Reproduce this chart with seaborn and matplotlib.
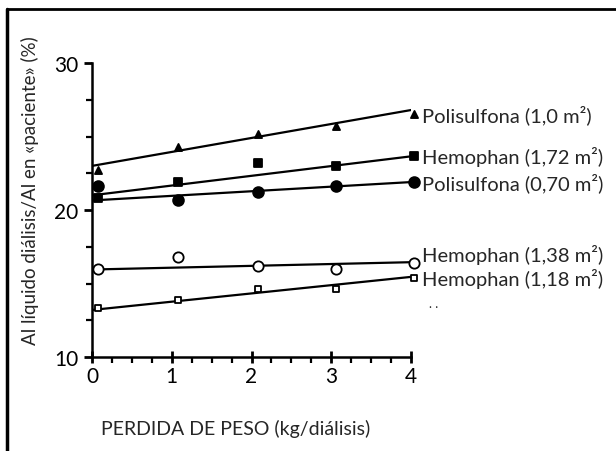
import numpy as np
import pandas as pd
import seaborn as sns
import matplotlib.pyplot as plt
from matplotlib.lines import Line2D
from matplotlib.ticker import MultipleLocator

# peso perdido (kg/dialisis), same x for every membrane
perdida = [0.08, 1.08, 2.08, 3.06, 4.04]

series = ['Polisulfona (1,0 m²)', 'Hemophan (1,72 m²)', 'Polisulfona (0,70 m²)',
          'Hemophan (1,38 m²)', 'Hemophan (1,18 m²)']
pol_10 = [22.7, 24.3, 25.2, 25.7, 26.5]
hem_172 = [20.8, 21.9, 23.2, 23.0, 23.7]
pol_070 = [21.65, 20.7, 21.2, 21.6, 21.9]
hem_138 = [16.0, 16.8, 16.2, 16.0, 16.4]
hem_118 = [13.3, 13.9, 14.6, 14.6, 15.4]

# rectas de regresion tal como salen en la figura (valor en x=0 y en x=4)
recta_x = [0, 4]
recta_ini = [23.0, 21.0, 20.65, 15.95, 13.2]
recta_fin = [26.8, 23.65, 21.9, 16.45, 15.45]

rows = []
for name, vals in zip(series, [pol_10, hem_172, pol_070, hem_138, hem_118]):
    for x, y in zip(perdida, vals):
        rows.append({'perdida': x, 'al': y, 'membrana': name})
df = pd.DataFrame(rows)

lineas = []
for name, y0, y1 in zip(series, recta_ini, recta_fin):
    lineas.append({'perdida': recta_x[0], 'al': y0, 'membrana': name})
    lineas.append({'perdida': recta_x[1], 'al': y1, 'membrana': name})
df_lin = pd.DataFrame(lineas)

sns.set_style('ticks')
plt.rcParams['font.family'] = ['Lato', 'DejaVu Sans']

fig = plt.figure(figsize=(6.16, 4.52), dpi=100)
ax = fig.add_axes([92/616, 1-358/452, 319/616, 294/452])

sns.lineplot(data=df_lin, x='perdida', y='al', units='membrana', estimator=None,
             color='black', lw=1.6, ax=ax)

# marker, size, filled
estilos = {
    series[0]: ('^', 26, True),
    series[1]: ('s', 26, True),
    series[2]: ('o', 60, True),
    series[3]: ('o', 55, False),
    series[4]: ('s', 24, False),
}
dy_label = [0.0, 0.0, 0.0, 0.6, 0.0]

for i, name in enumerate(series):
    sub = df[df['membrana'] == name]
    m, s, filled = estilos[name]
    sns.scatterplot(data=sub, x='perdida', y='al', ax=ax, marker=m, s=s,
                    color='black' if filled else 'white', edgecolor='black',
                    linewidth=1.3, clip_on=False, zorder=4)
    ax.text(4.14, sub['al'].iloc[-1] + dy_label[i], name, fontsize=14.5,
            va='center', ha='left')

ax.text(4.22, 13.7, '. .', fontsize=9, va='center')

ax.set_xlim(0, 4)
ax.set_ylim(10, 30)

sns.despine(ax=ax)
for sp in ['left', 'bottom']:
    ax.spines[sp].set_linewidth(1.8)
    ax.spines[sp].set_color('black')

ax.set_xticks([0, 1, 2, 3, 4])
ax.set_yticks([10, 20, 30])
ax.xaxis.set_minor_locator(MultipleLocator(0.25))
ax.yaxis.set_minor_locator(MultipleLocator(2.5))
ax.tick_params(axis='both', which='both', bottom=True, left=True, colors='black')
ax.tick_params(axis='both', which='major', direction='out', length=6, width=2,
               labelsize=15, pad=4)
ax.tick_params(axis='both', which='minor', direction='out', length=4, width=1.6)
ax.tick_params(axis='x', which='major', direction='inout', length=9, pad=2)

ax.set_xlabel('PERDIDA DE PESO (kg/diálisis)', fontsize=14)
ax.set_ylabel('Al líquido diálisis/Al en «paciente» (%)', fontsize=13.5)
ax.xaxis.set_label_coords(0.45, -0.21)
ax.yaxis.set_label_coords(-0.165, 0.57)

# marco de la figura (solo arriba e izquierda visibles)
fig.add_artist(Line2D([7/616, 1.0], [1-10/452, 1-10/452], color='black', lw=2,
                      transform=fig.transFigure))
fig.add_artist(Line2D([7/616, 7/616], [0.0, 1-10/452], color='black', lw=2.5,
                      transform=fig.transFigure))

fig.savefig('out.png', dpi=100)
